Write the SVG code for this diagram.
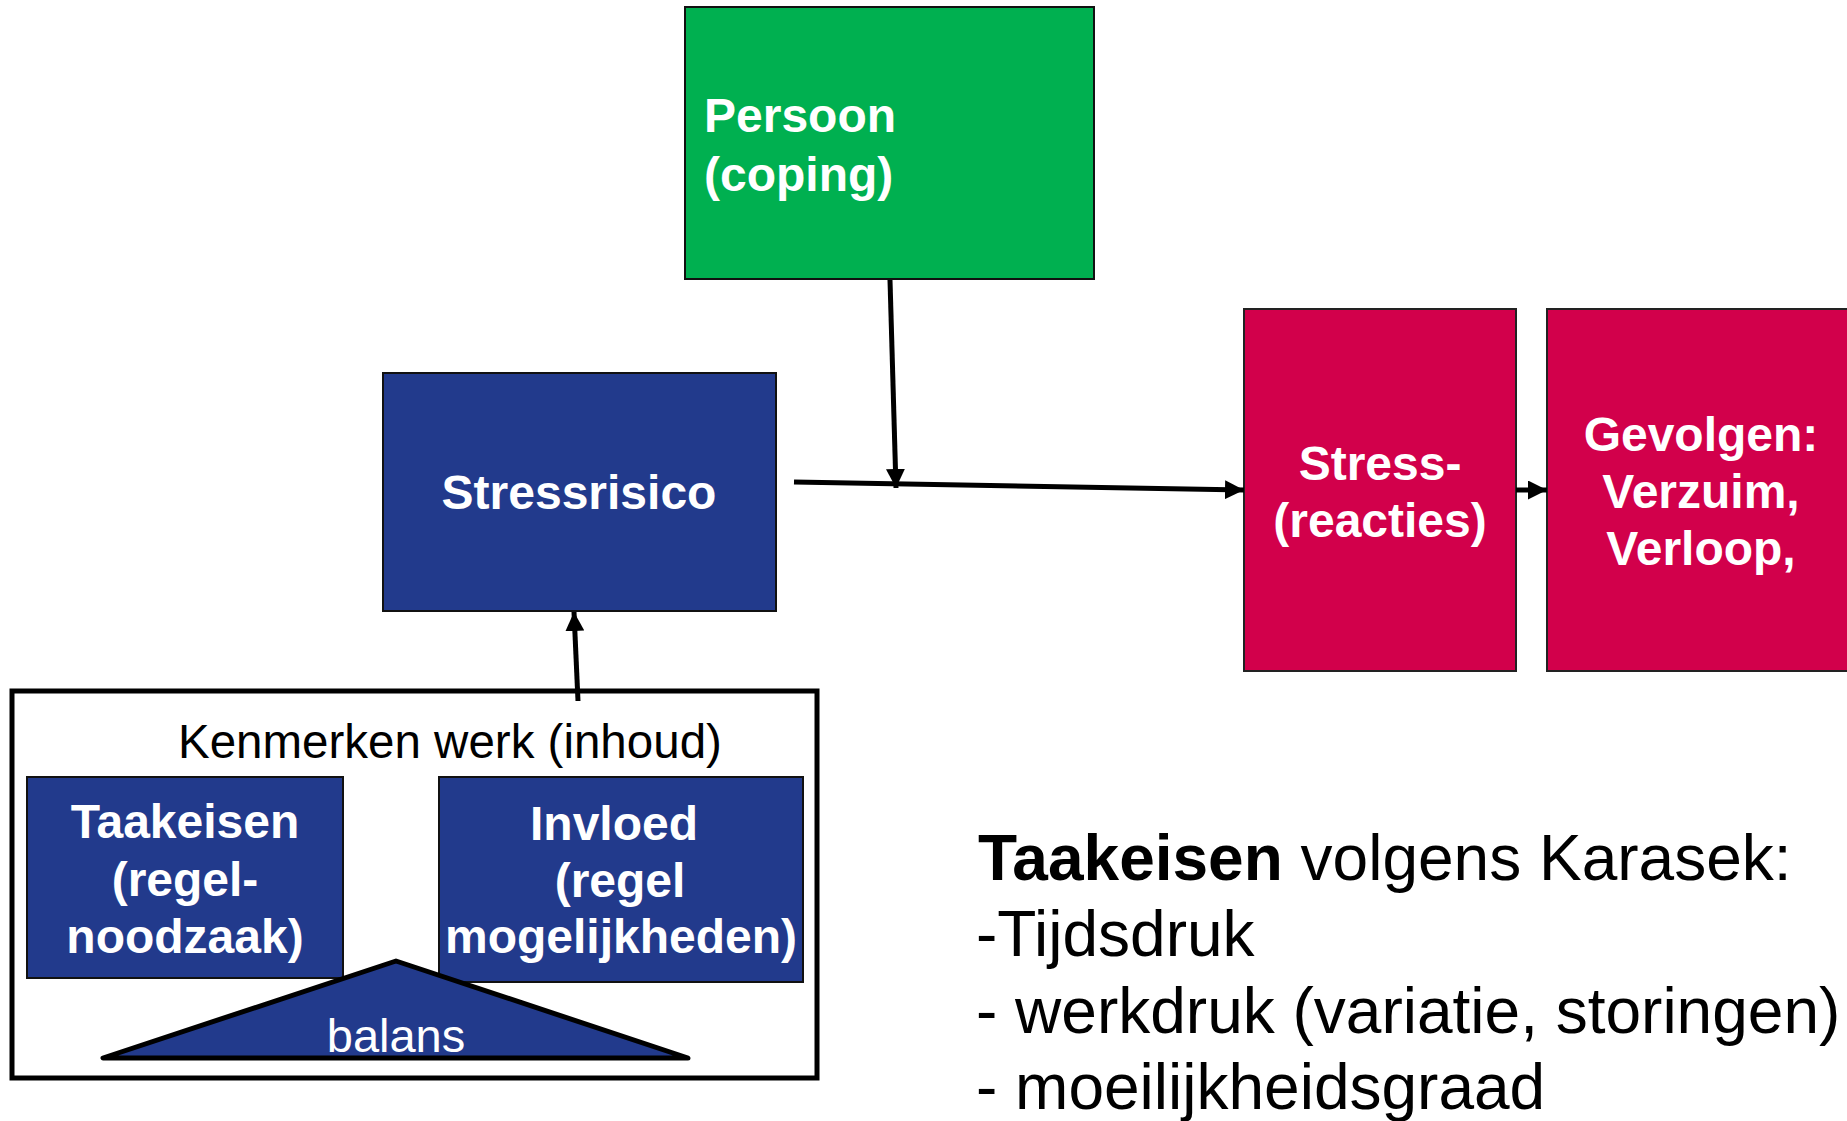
<svg xmlns="http://www.w3.org/2000/svg" width="1847" height="1121" viewBox="0 0 1847 1121">
  <style>
    .bold { font-family: "Liberation Sans", Arial, sans-serif; font-weight: bold; font-size: 48px; fill: #ffffff; }
    .reg { font-family: "Liberation Sans", Arial, sans-serif; font-size: 47.5px; fill: #000000; }
    .list { font-family: "Liberation Sans", Arial, sans-serif; font-size: 64px; fill: #000000; }
    .navy { fill: #223A8C; stroke: #111111; stroke-width: 2; }
    .red { fill: #D2004B; stroke: #222222; stroke-width: 2; }
    .conn { stroke: #000000; stroke-width: 5; fill: none; }
  </style>
  <defs>
    <marker id="arrow" viewBox="0 0 10 10" refX="10" refY="5" markerWidth="19" markerHeight="19" markerUnits="userSpaceOnUse" orient="auto">
      <path d="M0,0 L10,5 L0,10 Z" fill="#000000"/>
    </marker>
  </defs>
  <rect width="1847" height="1121" fill="#ffffff"/>

  <g id="persoon">
    <rect x="685" y="7" width="409" height="272" fill="#00B050" stroke="#111111" stroke-width="2"/>
    <text class="bold" x="704" y="132">Persoon</text>
    <text class="bold" x="704" y="191">(coping)</text>
  </g>

  <g id="stressrisico">
    <rect class="navy" x="383" y="373" width="393" height="238"/>
    <text class="bold" x="579" y="509" text-anchor="middle">Stressrisico</text>
  </g>

  <g id="stressreacties">
    <rect class="red" x="1244" y="309" width="272" height="362"/>
    <text class="bold" x="1380" y="480" text-anchor="middle">Stress-</text>
    <text class="bold" x="1380" y="537" text-anchor="middle">(reacties)</text>
  </g>

  <g id="gevolgen">
    <rect class="red" x="1547" y="309" width="320" height="362"/>
    <text class="bold" x="1701" y="451" text-anchor="middle">Gevolgen:</text>
    <text class="bold" x="1701" y="508" text-anchor="middle">Verzuim,</text>
    <text class="bold" x="1701" y="565" text-anchor="middle">Verloop,</text>
  </g>

  <g id="kenmerken">
    <rect x="12" y="691" width="805" height="387" fill="#ffffff" stroke="#000000" stroke-width="5"/>
    <text class="reg" x="178" y="758">Kenmerken werk (inhoud)</text>
  </g>

  <g id="taakeisen">
    <rect class="navy" x="27" y="777" width="316" height="201"/>
    <text class="bold" x="185" y="838" text-anchor="middle">Taakeisen</text>
    <text class="bold" x="185" y="896" text-anchor="middle">(regel-</text>
    <text class="bold" x="185" y="953" text-anchor="middle">noodzaak)</text>
  </g>

  <g id="invloed">
    <rect class="navy" x="439" y="777" width="364" height="205"/>
    <text class="bold" x="614" y="840" text-anchor="middle">Invloed</text>
    <text class="bold" x="620" y="897" text-anchor="middle">(regel</text>
    <text class="bold" x="621" y="953" text-anchor="middle">mogelijkheden)</text>
  </g>

  <g id="balans">
    <polygon points="396,961 103,1058 688,1058" fill="#223A8C" stroke="#000000" stroke-width="5" stroke-linejoin="round"/>
    <text x="396" y="1052" text-anchor="middle" font-family="Liberation Sans, Arial, sans-serif" font-size="47" fill="#ffffff">balans</text>
  </g>

  <g id="karasek">
    <text class="list" x="978" y="880"><tspan font-weight="bold">Taakeisen</tspan> volgens Karasek:</text>
    <text class="list" x="976" y="956">-Tijdsdruk</text>
    <text class="list" x="976" y="1033">- werkdruk (variatie, storingen)</text>
    <text class="list" x="976" y="1109">- moeilijkheidsgraad</text>
  </g>

  <g id="connectors">
    <line class="conn" x1="794" y1="482" x2="1244" y2="490" marker-end="url(#arrow)"/>
    <line class="conn" x1="890" y1="280" x2="896" y2="488" marker-end="url(#arrow)"/>
    <line class="conn" x1="1516" y1="490" x2="1547" y2="490" marker-end="url(#arrow)"/>
    <line class="conn" x1="578" y1="701" x2="574" y2="612" marker-end="url(#arrow)"/>
  </g>
</svg>
